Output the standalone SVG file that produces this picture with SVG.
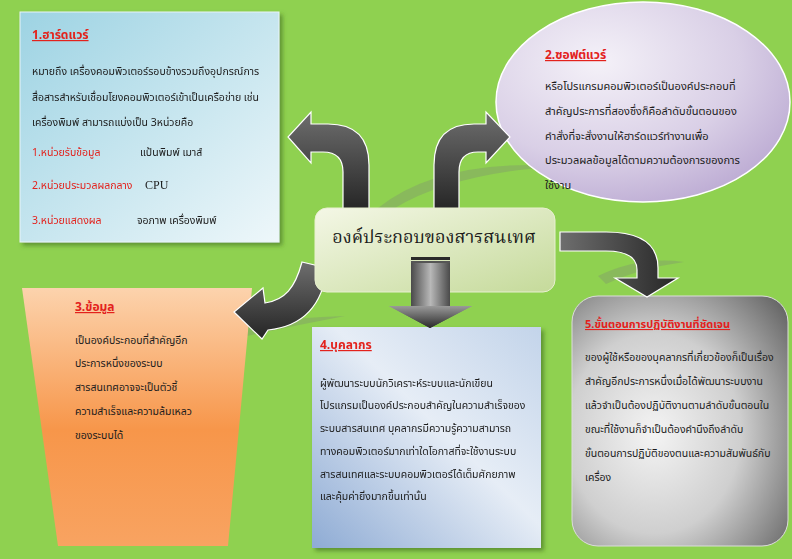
<svg xmlns="http://www.w3.org/2000/svg" width="792" height="559" viewBox="0 0 792 559">
<defs>
<style>
.t{font-family:"Noto Sans Thai","Noto Serif Thai","DejaVu Sans","Noto Sans",sans-serif;font-size:10.5px;fill:#1c1c1c}
.h{font-family:"Noto Sans Thai","Noto Serif Thai","DejaVu Sans","Noto Sans",sans-serif;font-size:12px;font-weight:bold;fill:#e3211c;text-decoration:underline}
.r{fill:#e3211c}
.arr{stroke:#ffffff;stroke-width:1.2;fill:url(#gArr)}
</style>
<linearGradient id="gArr" x1="0" y1="0" x2="0" y2="1"><stop offset="0" stop-color="#6e6e6e"/><stop offset="1" stop-color="#242424"/></linearGradient>
<linearGradient id="gArrH" x1="0" y1="0" x2="1" y2="0"><stop offset="0" stop-color="#6e6e6e"/><stop offset="1" stop-color="#262626"/></linearGradient>
<linearGradient id="gB1" x1="0" y1="0" x2="1" y2="1"><stop offset="0" stop-color="#9dd3e3"/><stop offset="1" stop-color="#eef7fa"/></linearGradient>
<radialGradient id="gB2" cx="0.35" cy="0.3" r="0.8"><stop offset="0" stop-color="#f4f1f8"/><stop offset="0.6" stop-color="#d9cfe6"/><stop offset="1" stop-color="#b9a7d1"/></radialGradient>
<linearGradient id="gB3" x1="0" y1="0" x2="0" y2="1"><stop offset="0" stop-color="#fcd3ad"/><stop offset="0.55" stop-color="#f7964a"/><stop offset="1" stop-color="#f8a361"/></linearGradient>
<linearGradient id="gB4" x1="1" y1="0" x2="0" y2="1"><stop offset="0" stop-color="#c3d4ea"/><stop offset="0.45" stop-color="#e6edf6"/><stop offset="1" stop-color="#8eabd4"/></linearGradient>
<radialGradient id="gB5" cx="0.38" cy="0.55" r="0.8"><stop offset="0" stop-color="#f4f4f4"/><stop offset="0.5" stop-color="#cfcfcf"/><stop offset="1" stop-color="#626262"/></radialGradient>
<linearGradient id="gC" x1="0" y1="0" x2="1" y2="1"><stop offset="0" stop-color="#f4f7e6"/><stop offset="1" stop-color="#c5da9a"/></linearGradient>
<linearGradient id="gDown" x1="0" y1="0" x2="1" y2="0"><stop offset="0" stop-color="#4a4a4a"/><stop offset="0.5" stop-color="#b8b8b8"/><stop offset="1" stop-color="#4a4a4a"/></linearGradient>
<linearGradient id="gDownH" x1="0" y1="0" x2="0" y2="1"><stop offset="0" stop-color="#9a9a9a"/><stop offset="1" stop-color="#2a2a2a"/></linearGradient>
<filter id="sh" x="-10%" y="-10%" width="130%" height="130%"><feDropShadow dx="3" dy="3" stdDeviation="2" flood-color="#3d6b1c" flood-opacity="0.6"/></filter>
</defs>
<rect width="792" height="559" fill="#8fd150"/>
<!-- decorative swooshes -->
<g fill="#7f8c72" opacity="0.35">
<path d="M378,208 Q440,158 565,166 Q455,172 395,208 Z"/>
<path d="M150,352 Q245,318 345,316 Q250,334 165,355 Z"/>
<path d="M598,276 Q640,256 684,262 Q640,268 606,284 Z"/>
</g>
<g id="box1" filter="url(#sh)">
<rect x="20" y="12" width="259" height="230" fill="url(#gB1)" stroke="#e8f4f8" stroke-width="1"/>
<text class="h" x="32" y="39">1.ฮาร์ดแวร์</text>
<text class="t" x="32" y="75">หมายถึง เครื่องคอมพิวเตอร์รอบข้างรวมถึงอุปกรณ์การ</text>
<text class="t" x="32" y="101">สื่อสารสำหรับเชื่อมโยงคอมพิวเตอร์เข้าเป็นเครือข่าย เช่น</text>
<text class="t" x="32" y="126">เครื่องพิมพ์ สามารถแบ่งเป็น 3หน่วยคือ</text>
<text class="t r" x="32" y="156">1.หน่วยรับข้อมูล</text>
<text class="t" x="140" y="156">แป้นพิมพ์ เมาส์</text>
<text class="t r" x="32" y="189">2.หน่วยประมวลผลกลาง</text>
<text class="t" x="145" y="189" style="font-family:'Liberation Serif',serif;font-size:12px">CPU</text>
<text class="t r" x="32" y="224">3.หน่วยแสดงผล</text>
<text class="t" x="137" y="224">จอภาพ  เครื่องพิมพ์</text>
</g>
<g id="box2">
<ellipse cx="643" cy="102" rx="147" ry="100" fill="url(#gB2)" stroke="#ffffff" stroke-width="1.5"/>
<text class="h" x="545" y="59">2.ซอฟต์แวร์</text>
<g style="font-size:11px">
<text class="t" x="545" y="90" style="font-size:11px">หรือโปรแกรมคอมพิวเตอร์เป็นองค์ประกอบที่</text>
<text class="t" x="545" y="115" style="font-size:11px">สำคัญประการที่สองซึ่งก็คือลำดับขั้นตอนของ</text>
<text class="t" x="545" y="140" style="font-size:11px">คำสั่งที่จะสั่งงานให้ฮาร์ดแวร์ทำงานเพื่อ</text>
<text class="t" x="545" y="164" style="font-size:11px">ประมวลผลข้อมูลได้ตามความต้องการของการ</text>
<text class="t" x="545" y="189" style="font-size:11px">ใช้งาน</text>
</g>
</g>
<g id="box3">
<path d="M22,288 L252,288 L228,546 L58,546 Z" fill="url(#gB3)"/>
<text class="h" x="75" y="311">3.ข้อมูล</text>
<text class="t" x="75" y="344">เป็นองค์ประกอบที่สำคัญอีก</text>
<text class="t" x="75" y="367">ประการหนึ่งของระบบ</text>
<text class="t" x="75" y="391">สารสนเทศอาจจะเป็นตัวชี้</text>
<text class="t" x="75" y="415">ความสำเร็จและความล้มเหลว</text>
<text class="t" x="75" y="439">ของระบบได้</text>
</g>
<g id="box4" filter="url(#sh)">
<rect x="312" y="327" width="229" height="221" fill="url(#gB4)"/>
<text class="h" x="320" y="349">4.บุคลากร</text>
<text class="t" x="320" y="387">ผู้พัฒนาระบบนักวิเคราะห์ระบบและนักเขียน</text>
<text class="t" x="320" y="409">โปรแกรมเป็นองค์ประกอบสำคัญในความสำเร็จของ</text>
<text class="t" x="320" y="432">ระบบสารสนเทศ บุคลากรมีความรู้ความสามารถ</text>
<text class="t" x="320" y="455">ทางคอมพิวเตอร์มากเท่าใดโอกาสที่จะใช้งานระบบ</text>
<text class="t" x="320" y="478">สารสนเทศและระบบคอมพิวเตอร์ได้เต็มศักยภาพ</text>
<text class="t" x="320" y="500">และคุ้มค่ายิ่งมากขึ้นเท่านั้น</text>
</g>
<g id="box5">
<rect x="572" y="296" width="216" height="250" rx="26" fill="url(#gB5)" stroke="#dcdcdc" stroke-width="1"/>
<text class="h" x="585" y="328" style="font-size:11px">5.ขั้นตอนการปฏิบัติงานที่ชัดเจน</text>
<text class="t" x="585" y="361">ของผู้ใช้หรือของบุคลากรที่เกี่ยวข้องก็เป็นเรื่อง</text>
<text class="t" x="585" y="385">สำคัญอีกประการหนึ่งเมื่อได้พัฒนาระบบงาน</text>
<text class="t" x="585" y="409">แล้วจำเป็นต้องปฏิบัติงานตามลำดับขั้นตอนใน</text>
<text class="t" x="585" y="433">ขณะที่ใช้งานก็จำเป็นต้องคำนึงถึงลำดับ</text>
<text class="t" x="585" y="457">ขั้นตอนการปฏิบัติของตนและความสัมพันธ์กับ</text>
<text class="t" x="585" y="481">เครื่อง</text>
</g>
<g id="connectors">
<path class="arr" d="M343,212 L343,172 Q343,152 323,152 L311,152 L311,163 L288,137 L311,112 L311,124 L328,124 Q369,124 369,165 L369,212 Z"/>
<path class="arr" d="M434,212 L434,165 Q434,124 474,124 L486,124 L486,112 L510,137 L486,163 L486,152 L478,152 Q459,152 459,172 L459,212 Z"/>
<path class="arr" d="M302,262 L327,268 C323,302 306,326 268,330 L262,339 L234,312 L263,288 L265,303 C285,300 295,288 302,262 Z"/>
<path class="arr" style="fill:url(#gArrH)" d="M560,232 L606,232 Q658,232 658,268 L658,278 L678,278 L647,297 L615,278 L637,278 L637,270 Q637,251 606,251 L560,251 Z"/>
<g id="downArrow">
<rect x="411" y="263" width="39" height="43" fill="url(#gDown)"/>
<rect x="411" y="257" width="39" height="3" fill="#2a2a2a"/>
<rect x="411" y="261" width="39" height="2" fill="#555"/>
<path d="M389,306 L472,306 L430,328 Z" fill="url(#gDownH)"/>
</g>
</g>
<g id="center">
<rect x="315" y="208" width="240" height="84" rx="12" fill="url(#gC)" stroke="#e8f0d0" stroke-width="1"/>
<text x="434" y="243" text-anchor="middle" style="font-family:'Noto Serif Thai','Noto Sans Thai','DejaVu Serif',serif;font-size:18px;fill:#1a1a1a">องค์ประกอบของสารสนเทศ</text>
</g>
<use href="#downArrow"/>
</svg>
